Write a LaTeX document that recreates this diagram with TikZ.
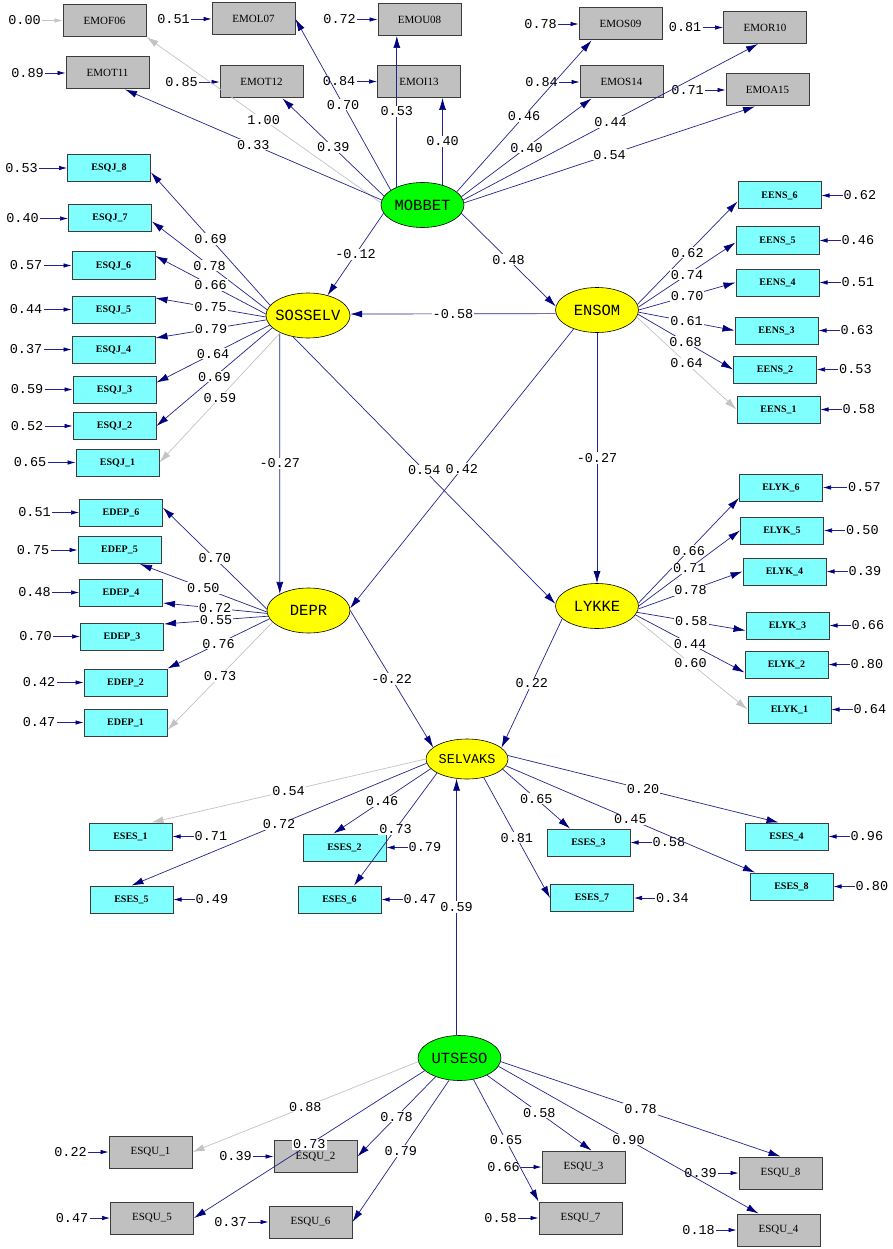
\documentclass[tikz,border=0pt]{standalone}
\usepackage{fontspec}
\usetikzlibrary{shapes.geometric,arrows.meta,calc}
\newfontfamily\monof{Liberation Mono}
\newfontfamily\serf{Liberation Serif}
\definecolor{lcol}{RGB}{35,35,140}
\definecolor{tipcol}{RGB}{0,0,128}
\definecolor{lgray}{RGB}{195,195,195}
\definecolor{boxgray}{RGB}{192,192,192}
\definecolor{boxcyan}{RGB}{128,255,255}
\definecolor{bord}{RGB}{60,60,60}
\definecolor{latgreen}{RGB}{0,255,0}
\definecolor{latyellow}{RGB}{255,255,0}
\tikzset{
 gbox/.style={draw=bord, line width=1pt, fill=boxgray, minimum width=83pt, minimum height=32pt, inner sep=0pt, font=\serf\fontsize{11}{12}\selectfont},
 cbox/.style={draw=bord, line width=1pt, fill=boxcyan, minimum width=83pt, minimum height=27pt, inner sep=0pt, font=\serf\bfseries\fontsize{10}{11}\selectfont},
 lat/.style={ellipse, draw=black, line width=0.6pt, inner sep=0pt, minimum width=83pt, minimum height=45pt, font=\monof\fontsize{15.5}{16}\selectfont},
 exo/.style={lat, fill=latgreen},
 endo/.style={lat, fill=latyellow},
 lbl/.style={midway, fill=white, inner sep=1pt, font=\monof\fontsize{13.5}{14}\selectfont, text=black},
 errlbl/.style={inner sep=1pt, font=\monof\fontsize{13.5}{14}\selectfont},
 ld/.style={draw=lcol, line width=0.7pt, -{Latex[length=12pt,width=7pt,color=tipcol]}},
 ldg/.style={draw=lgray, line width=0.7pt, -{Latex[length=12pt,width=7pt,color=lgray]}},
 ea/.style={draw=lcol, line width=0.7pt, -{Latex[length=8pt,width=4.5pt,color=tipcol]}},
 eag/.style={draw=lgray, line width=0.7pt, -{Latex[length=8pt,width=4.5pt,color=lgray]}},
}
\newcommand\errLeft[3]{\node[errlbl,anchor=east] (e#1) at ([xshift=-#2pt]#1.west) {#3}; \draw[ea] (e#1.east) -- (#1.west);}
\newcommand\errRight[3]{\node[errlbl,anchor=west] (e#1) at ([xshift=#2pt]#1.east) {#3}; \draw[ea] (e#1.west) -- (#1.east);}
\newcommand\lattext[1]{\makebox[0pt]{#1}}
\begin{document}
\begin{tikzpicture}[x=1pt,y=-1pt]
\fill[white] (0,0) rectangle (892,1249);
\useasboundingbox (0,0) rectangle (892,1249);

% latent variables
\node[exo] (MOBBET) at (422.5,205) {\lattext{MOBBET}};
\node[endo, minimum width=84pt] (SOSSELV) at (308,315.5) {\lattext{SOSSELV}};
\node[endo] (ENSOM) at (597,310) {\lattext{ENSOM}};
\node[endo] (DEPR) at (308.5,610.5) {\lattext{DEPR}};
\node[endo] (LYKKE) at (597,606) {\lattext{LYKKE}};
\node[endo, minimum width=82pt, minimum height=40pt, font=\monof\fontsize{13.5}{14}\selectfont] (SELVAKS) at (467,759) {\lattext{SELVAKS}};
\node[exo] (UTSESO) at (459.5,1058) {\lattext{UTSESO}};

% top grey indicators
\node[gbox] (EMOF06) at (104.5,20.5) {EMOF06};
\node[gbox] (EMOL07) at (253.5,19) {EMOL07};
\node[gbox] (EMOU08) at (419.5,19.5) {EMOU08};
\node[gbox] (EMOT11) at (107.5,73) {EMOT11};
\node[gbox] (EMOT12) at (261.5,82) {EMOT12};
\node[gbox] (EMOI13) at (419,81.5) {EMOI13};
\node[gbox] (EMOS09) at (620.5,24) {EMOS09};
\node[gbox] (EMOR10) at (765,27.5) {EMOR10};
\node[gbox] (EMOS14) at (621.5,82) {EMOS14};
\node[gbox] (EMOA15) at (767.5,90) {EMOA15};

% ESQJ
\node[cbox] (ESQJ8) at (109,168) {ESQJ\_8};
\node[cbox] (ESQJ7) at (110,218.5) {ESQJ\_7};
\node[cbox] (ESQJ6) at (113.5,265.5) {ESQJ\_6};
\node[cbox] (ESQJ5) at (113.5,309.5) {ESQJ\_5};
\node[cbox] (ESQJ4) at (113.5,349.5) {ESQJ\_4};
\node[cbox] (ESQJ3) at (114.5,389.5) {ESQJ\_3};
\node[cbox] (ESQJ2) at (114.5,426) {ESQJ\_2};
\node[cbox] (ESQJ1) at (117.5,462.5) {ESQJ\_1};

% EENS
\node[cbox] (EENS6) at (779.5,195.5) {EENS\_6};
\node[cbox] (EENS5) at (777.5,240.5) {EENS\_5};
\node[cbox] (EENS4) at (777.5,282.5) {EENS\_4};
\node[cbox] (EENS3) at (776.5,330.5) {EENS\_3};
\node[cbox] (EENS2) at (775,369.5) {EENS\_2};
\node[cbox] (EENS1) at (778.5,409.5) {EENS\_1};

% EDEP
\node[cbox] (EDEP6) at (121,512.5) {EDEP\_6};
\node[cbox] (EDEP5) at (119.5,550) {EDEP\_5};
\node[cbox] (EDEP4) at (121,592.5) {EDEP\_4};
\node[cbox] (EDEP3) at (122,636.5) {EDEP\_3};
\node[cbox] (EDEP2) at (125.5,682.5) {EDEP\_2};
\node[cbox] (EDEP1) at (125.5,722.5) {EDEP\_1};

% ELYK
\node[cbox] (ELYK6) at (781,487.5) {ELYK\_6};
\node[cbox] (ELYK5) at (782,530.5) {ELYK\_5};
\node[cbox] (ELYK4) at (784.5,571.5) {ELYK\_4};
\node[cbox] (ELYK3) at (787.5,625.5) {ELYK\_3};
\node[cbox] (ELYK2) at (786.5,664.5) {ELYK\_2};
\node[cbox] (ELYK1) at (789.5,709.5) {ELYK\_1};

% ESES
\node[cbox] (ESES1) at (130.5,836.5) {ESES\_1};
\node[cbox] (ESES5) at (131.5,899.5) {ESES\_5};
\node[cbox] (ESES2) at (344.5,847.5) {ESES\_2};
\node[cbox] (ESES6) at (339.5,899.5) {ESES\_6};
\node[cbox] (ESES3) at (588.5,842.5) {ESES\_3};
\node[cbox] (ESES7) at (592,898) {ESES\_7};
\node[cbox] (ESES4) at (786.5,836.5) {ESES\_4};
\node[cbox] (ESES8) at (791.5,886.5) {ESES\_8};

% ESQU
\node[gbox] (ESQU1) at (150.5,1152) {ESQU\_1};
\node[gbox] (ESQU2) at (315.5,1156.5) {ESQU\_2};
\node[gbox] (ESQU5) at (152,1218) {ESQU\_5};
\node[gbox] (ESQU6) at (310.5,1222) {ESQU\_6};
\node[gbox] (ESQU3) at (583.5,1167) {ESQU\_3};
\node[gbox] (ESQU7) at (580.5,1218) {ESQU\_7};
\node[gbox] (ESQU8) at (780.5,1173) {ESQU\_8};
\node[gbox] (ESQU4) at (778.5,1230) {ESQU\_4};

% error terms
\node[errlbl,anchor=east] (eEMOF06) at ([xshift=-20.5pt]EMOF06.west) {0.00};
\draw[eag] (eEMOF06.east) -- (EMOF06.west);
\errLeft{EMOL07}{20.5}{0.51}
\errLeft{EMOU08}{20.5}{0.72}
\errLeft{EMOT11}{20.5}{0.89}
\errLeft{EMOT12}{20.5}{0.85}
\errLeft{EMOI13}{20.5}{0.84}
\errLeft{EMOS09}{20.5}{0.78}
\errLeft{EMOR10}{20.5}{0.81}
\errLeft{EMOS14}{20.5}{0.84}
\errLeft{EMOA15}{20.5}{0.71}
\errLeft{ESQJ8}{28}{0.53}
\errLeft{ESQJ7}{28}{0.40}
\errLeft{ESQJ6}{28}{0.57}
\errLeft{ESQJ5}{28}{0.44}
\errLeft{ESQJ4}{28}{0.37}
\errLeft{ESQJ3}{28}{0.59}
\errLeft{ESQJ2}{28}{0.52}
\errLeft{ESQJ1}{28}{0.65}
\errRight{EENS6}{21}{0.62}
\errRight{EENS5}{21}{0.46}
\errRight{EENS4}{21}{0.51}
\errRight{EENS3}{21}{0.63}
\errRight{EENS2}{21}{0.53}
\errRight{EENS1}{21}{0.58}
\errLeft{EDEP6}{27}{0.51}
\errLeft{EDEP5}{27}{0.75}
\errLeft{EDEP4}{27}{0.48}
\errLeft{EDEP3}{27}{0.70}
\errLeft{EDEP2}{27}{0.42}
\errLeft{EDEP1}{27}{0.47}
\errRight{ELYK6}{24}{0.57}
\errRight{ELYK5}{21}{0.50}
\errRight{ELYK4}{21}{0.39}
\errRight{ELYK3}{21}{0.66}
\errRight{ELYK2}{21}{0.80}
\errRight{ELYK1}{21}{0.64}
\errRight{ESES1}{21}{0.71}
\errRight{ESES5}{21}{0.49}
\errRight{ESES2}{21}{0.79}
\errRight{ESES6}{21}{0.47}
\errRight{ESES3}{21}{0.58}
\errRight{ESES7}{21}{0.34}
\errRight{ESES4}{21}{0.96}
\errRight{ESES8}{21}{0.80}
\errLeft{ESQU1}{20.5}{0.22}
\errLeft{ESQU2}{20.5}{0.39}
\errLeft{ESQU5}{20.5}{0.47}
\errLeft{ESQU6}{20.5}{0.37}
\errLeft{ESQU3}{20.5}{0.66}
\errLeft{ESQU7}{20.5}{0.58}
\errLeft{ESQU8}{20.5}{0.39}
\errLeft{ESQU4}{20.5}{0.18}

% MOBBET loadings
\draw[ldg] (MOBBET.177) -- node[lbl]{1.00} (EMOF06.south east);
\draw[ld] (MOBBET.155) -- node[lbl]{0.70} (EMOL07.east);
\draw[ld] (MOBBET.145) -- node[lbl]{0.53} (EMOU08.south -| MOBBET.145);
\draw[ld] (MOBBET.173) -- node[lbl]{0.33} ([xshift=17.5pt]EMOT11.south);
\draw[ld] (MOBBET.167) -- node[lbl]{0.39} ([xshift=21pt]EMOT12.south);
\draw[ld] (MOBBET.45) -- node[lbl]{0.40} (EMOI13.south -| MOBBET.45);
\draw[ld] (MOBBET.21) -- node[lbl]{0.46} ([xshift=-29pt]EMOS09.south);
\draw[ld] (MOBBET.12) -- node[lbl]{0.40} ([xshift=-30pt]EMOS14.south);
\draw[ld] (MOBBET.7) -- node[lbl]{0.44} ([xshift=-7pt]EMOR10.south);
\draw[ld] (MOBBET.3) -- node[lbl]{0.54} ([xshift=-12.5pt]EMOA15.south);

% structural paths
\draw[ld] (MOBBET.192) -- node[lbl]{-0.12} (SOSSELV.46);
\draw[ld] (MOBBET.348) -- node[lbl]{0.48} (ENSOM.175);
\draw[ld] (ENSOM.185) -- node[lbl]{-0.58} (SOSSELV.2);
\draw[ld] (SOSSELV.211) -- node[lbl]{-0.27} (DEPR.150);
\draw[ld] (SOSSELV.235) -- node[lbl]{0.54} (LYKKE.177);
\draw[ld] (ENSOM.219) -- node[lbl]{0.42} (DEPR.3);
\draw[ld] (ENSOM.south) -- node[lbl]{-0.27} (LYKKE.north);
\draw[ld] (DEPR.east) -- node[lbl]{-0.22} (SELVAKS.161);
\draw[ld] (LYKKE.200) -- node[lbl]{0.22} (SELVAKS.18);
\draw[ld] (UTSESO.north -| SELVAKS.242) -- node[lbl]{0.59} (SELVAKS.242);

% SOSSELV loadings
\draw[ld] (SOSSELV.165) -- node[lbl]{0.69} ([yshift=-4.5pt]ESQJ8.east);
\draw[ld] (SOSSELV.172) -- node[lbl]{0.78} ([yshift=-3pt]ESQJ7.east);
\draw[ld] (SOSSELV.178) -- node[lbl]{0.66} ([yshift=-4.5pt]ESQJ6.north east);
\draw[ld] (SOSSELV.182) -- node[lbl]{0.75} ([yshift=-2.5pt]ESQJ5.north east);
\draw[ld] (SOSSELV.186) -- node[lbl]{0.79} ([yshift=-2.5pt]ESQJ4.north east);
\draw[ld] (SOSSELV.194) -- node[lbl]{0.64} ([yshift=-7pt]ESQJ3.north east);
\draw[ld] (SOSSELV.199) -- node[lbl]{0.69} (ESQJ2.east);
\draw[ldg] (SOSSELV.212) -- node[lbl]{0.59} (ESQJ1.east);

% ENSOM loadings
\draw[ld] (ENSOM.8) -- node[lbl]{0.62} ([yshift=-6pt]EENS6.west);
\draw[ld] (ENSOM.4) -- node[lbl]{0.74} ([yshift=-2pt]EENS5.west);
\draw[ld] (ENSOM.0) -- node[lbl]{0.70} (EENS4.west);
\draw[ld] (ENSOM.357) -- node[lbl]{0.61} (EENS3.west);
\draw[ld] (ENSOM.354) -- node[lbl]{0.68} (EENS2.west);
\draw[ldg] (ENSOM.350) -- node[lbl]{0.64} (EENS1.west);

% DEPR loadings
\draw[ld] (DEPR.178) -- node[lbl]{0.70} ([yshift=4.8pt]EDEP6.east);
\draw[ld] (DEPR.182) -- node[lbl]{0.50} ([xshift=20.5pt]EDEP5.south);
\draw[ld] (DEPR.184) -- node[lbl]{0.72} ([yshift=-10.5pt]EDEP4.east);
\draw[ld] (DEPR.188) -- node[lbl]{0.55} ([yshift=-1.5pt]EDEP3.north east);
\draw[ld] (DEPR.192) -- node[lbl]{0.76} (EDEP2.north east);
\draw[ldg] (DEPR.198) -- node[lbl]{0.73} ([yshift=-7.5pt]EDEP1.east);

% LYKKE loadings
\draw[ld] (LYKKE.4) -- node[lbl]{0.66} ([yshift=-10.5pt]ELYK6.west);
\draw[ld] (LYKKE.0) -- node[lbl]{0.71} (ELYK5.west);
\draw[ld] (LYKKE.356) -- node[lbl]{0.78} (ELYK4.west);
\draw[ld] (LYKKE.351) -- node[lbl]{0.58} ([yshift=-5pt]ELYK3.west);
\draw[ld] (LYKKE.347) -- node[lbl]{0.44} ([yshift=-8pt]ELYK2.west);
\draw[ldg] (LYKKE.343) -- node[lbl]{0.60} (ELYK1.west);

% SELVAKS loadings
\draw[ldg] (SELVAKS.west) -- node[lbl]{0.54} ([xshift=21pt]ESES1.north);
\draw[ld] (SELVAKS.186) -- node[lbl]{0.72} (ESES5.north);
\draw[ld] (SELVAKS.195) -- node[lbl]{0.46} ([xshift=-11pt]ESES2.north);
\draw[ld] (SELVAKS.205) -- node[lbl]{0.73} ([xshift=14.5pt]ESES6.north);
\draw[ld] (SELVAKS.344) -- node[lbl]{0.65} ([xshift=-18.5pt]ESES3.north);
\draw[ld] (SELVAKS.312) -- node[lbl]{0.81} (ESES7.west);
\draw[ld] (SELVAKS.5) -- node[lbl]{0.20} ([xshift=-8pt]ESES4.north);
\draw[ld] (SELVAKS.350) -- node[lbl]{0.45} ([xshift=-36.5pt]ESES8.north);

% UTSESO loadings
\draw[ldg] (UTSESO.185) -- node[lbl]{0.88} (ESQU1.east);
\draw[ld] (UTSESO.200) -- node[lbl]{0.73} (ESQU5.east);
\draw[ld] (UTSESO.218) -- node[lbl]{0.78} (ESQU2.east);
\draw[ld] (UTSESO.245) -- node[lbl]{0.79} (ESQU6.east);
\draw[ld] (UTSESO.328) -- node[lbl]{0.58} ([xshift=8pt]ESQU3.north);
\draw[ld] (UTSESO.303) -- node[lbl]{0.65} (ESQU7.north west);
\draw[ld] (UTSESO.355) -- node[lbl]{0.78} (ESQU8.north);
\draw[ld] (UTSESO.348) -- node[lbl]{0.90} ([xshift=-20pt]ESQU4.north);
\end{tikzpicture}
\end{document}
